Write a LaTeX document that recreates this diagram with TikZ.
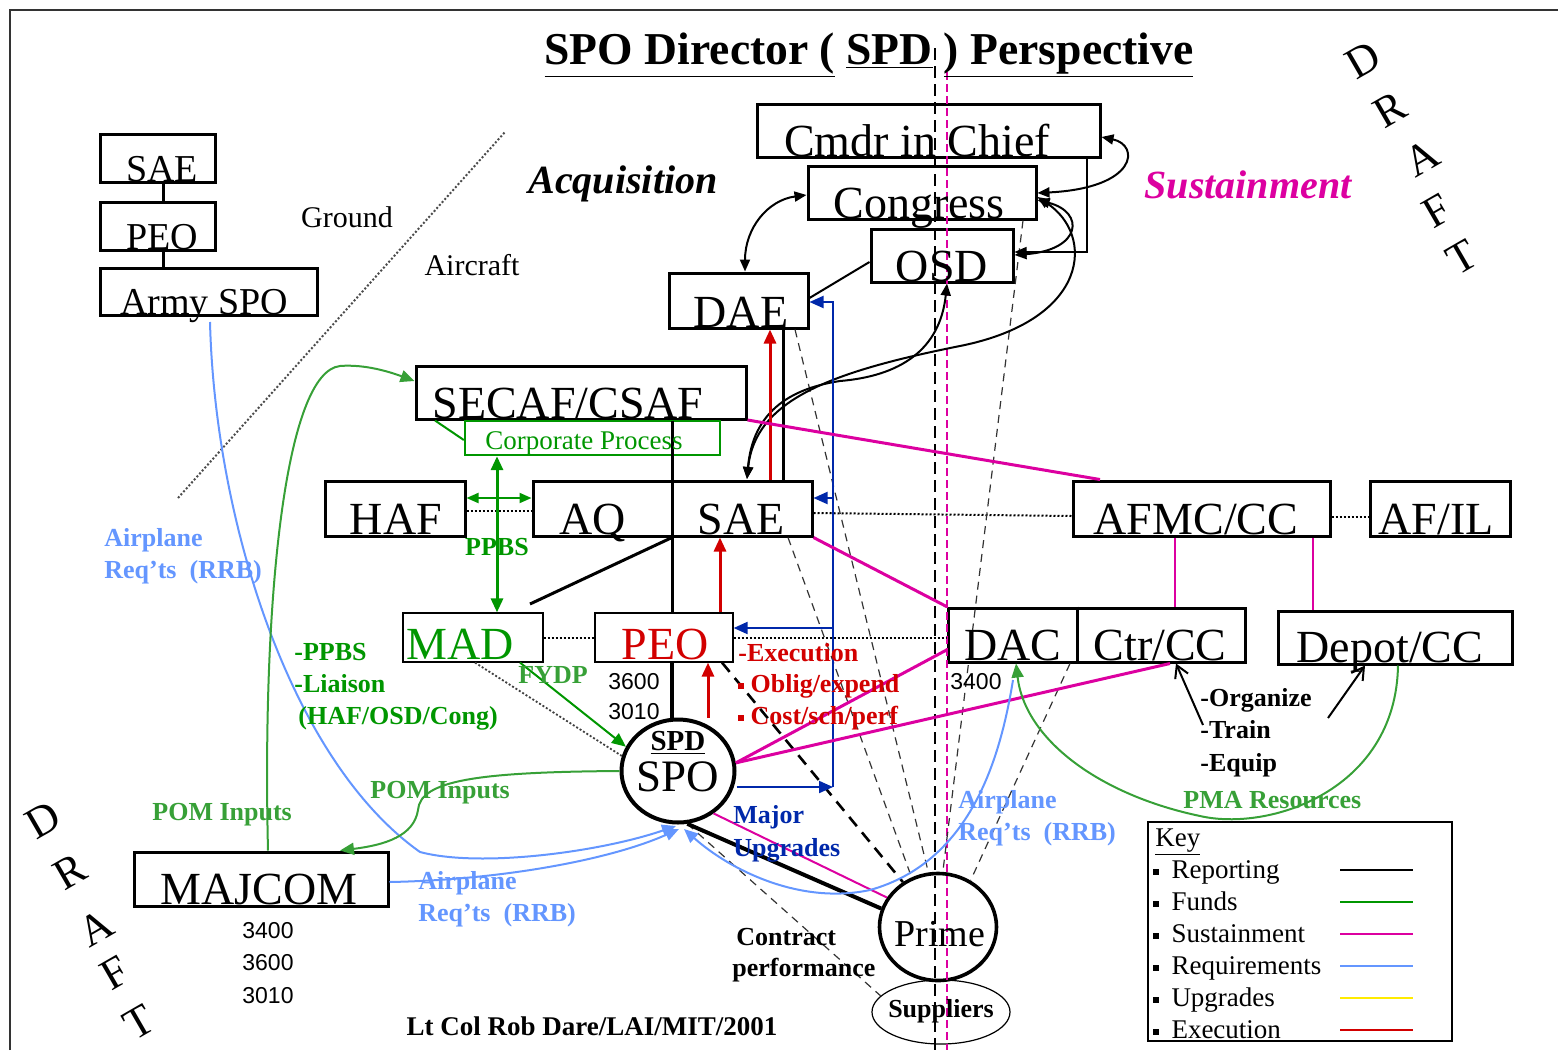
\documentclass[tikz,border=0pt]{standalone}
\usepackage{fontspec}
\setmainfont{Liberation Serif}
\newfontfamily\numfont{Liberation Sans}
\usetikzlibrary{arrows.meta,shapes.geometric,fit}
\definecolor{fgreen}{RGB}{0,150,0}
\definecolor{lgreen}{RGB}{55,160,55}
\definecolor{smag}{RGB}{220,0,160}
\definecolor{lblue}{RGB}{100,150,255}
\definecolor{dblue}{RGB}{0,40,170}
\definecolor{xred}{RGB}{210,0,0}
\definecolor{kyellow}{RGB}{255,235,0}
\newcommand\myfs[1]{\fontsize{#1}{#1}\selectfont}
\newcommand\sqb{\raisebox{0.12em}{\rule{0.22em}{0.22em}}}
\tikzset{
  box/.style={draw, line width=1.5pt, inner sep=0pt},
  thinbox/.style={draw, line width=0.6pt, inner sep=0pt},
  t/.style={anchor=base, inner sep=0pt},
  bt/.style={t, font=\myfs{23pt}},
  rep/.style={line width=1.5pt, black},
  arr/.style={-{Triangle[length=7pt,width=6pt]}},
  darr/.style={{Triangle[length=7pt,width=6pt]}-{Triangle[length=7pt,width=6pt]}},
  sarr/.style={-{Triangle[length=6pt,width=5pt]}},
  sdarr/.style={{Triangle[length=6pt,width=5pt]}-{Triangle[length=6pt,width=5pt]}},
  sust/.style={line width=1.5pt, smag},
  req/.style={line width=1pt, lblue},
  upg/.style={line width=1pt, dblue},
  exe/.style={line width=1.5pt, xred},
  fund/.style={line width=1pt, lgreen},
  dots/.style={line width=1pt, dash pattern=on 1pt off 1pt},
  thindash/.style={line width=0.6pt, black!80, dash pattern=on 4pt off 3pt},
  glbl/.style={t, font=\bfseries\myfs{13pt}, text=lgreen},
  blbl/.style={t, font=\bfseries\myfs{13pt}, text=lblue},
  dlet/.style={font=\myfs{22pt}, rotate=30, inner sep=0pt}
}
\begin{document}
\begin{tikzpicture}[x=0.5pt,y=-0.5pt]
\useasboundingbox (0,0) rectangle (1558,1050);
\draw[line width=0.8pt, black!80] (10,1050) -- (10,10) -- (1558,10);

% ---------- boxes ----------
\node[box, fit={(100,134) (215,182)}] (lsae) {};
\node[box, fit={(100,202) (215,250)}] (lpeo) {};
\node[box, fit={(100,268) (317,315)}] (army) {};
\node[box, fit={(757,104) (1100,157)}] (cic) {};
\node[box, fit={(808,166) (1036,219)}] (cong) {};
\node[box, fit={(871,229) (1013,282)}] (osd) {};
\node[box, fit={(669,273) (808,328)}] (dae) {};
\node[box, fit={(416,366) (746,419)}] (secaf) {};
\node[draw=fgreen, line width=1.2pt, inner sep=0pt, fit={(465,421) (720,455)}] (corp) {};
\node[box, fit={(325,481) (465,536)}] (haf) {};
\node[box, fit={(533,481) (812,536)}] (aqsae) {};
\node[box, fit={(1073,481) (1330,536)}] (afmc) {};
\node[box, fit={(1370,481) (1510,536)}] (afil) {};
\node[thinbox, fit={(403,613) (543,662)}] (mad) {};
\node[thinbox, fit={(595,613) (733,662)}] (peo) {};
\node[box, fit={(948,608) (1245,662)}] (dacctr) {};
\node[box, fit={(1278,611) (1512,664)}] (depot) {};
\node[box, fit={(134,852) (388,906)}] (majcom) {};
\node[draw, line width=0.8pt, inner sep=0pt, fit={(1148,822) (1452,1041)}] (key) {};
\node[draw, ellipse, line width=2pt, minimum width=56.5pt, minimum height=51.5pt, inner sep=0pt] (spo) at (678,771) {};
\node[draw, ellipse, line width=1.8pt, minimum width=58.5pt, minimum height=53.5pt, inner sep=0pt] (prime) at (938,927) {};
\node[draw, ellipse, line width=0.6pt, minimum width=69pt, minimum height=32pt, inner sep=0pt] (supp) at (941,1012) {};

% dividers
\draw[rep] (672,0 |- aqsae.north) -- (672,0 |- aqsae.south);
\draw[rep] (1077,0 |- dacctr.north) -- (1077,0 |- dacctr.south);

% ---------- centre dashed lines ----------
\coordinate (ctop) at (935,48);
\coordinate (cbot) at (935,1050);
\coordinate (mtop) at (947,72);
\coordinate (mbot) at (947,1050);
\draw[line width=1.4pt, dash pattern=on 6pt off 3pt] (ctop) -- (cbot);
\draw[line width=0.7pt, smag, dash pattern=on 4pt off 2pt] (mtop) -- (mbot);

% ---------- ground / aircraft divider ----------
\coordinate (gd1) at (178,498);
\coordinate (gd2) at (505,132);
\draw[line width=1pt, black!70, dash pattern=on 1pt off 1pt] (gd1) -- (gd2);

% ---------- dotted links ----------
\draw[dots] (haf.east |- 0,511) -- (aqsae.west |- 0,511);
\draw[dots] (aqsae.east |- 0,513) -- (afmc.west |- 0,516);
\draw[dots] (afmc.east |- 0,517) -- (afil.west |- 0,517);
\draw[dots] (mad.east |- 0,638) -- (peo.west |- 0,638);
\draw[dots] (peo.east |- 0,638) -- (dacctr.west |- 0,638);

% ---------- contract performance dashed ----------
\draw[thindash] (795,0 |- dae.south) -- (prime.100);
\draw[thindash] (788,0 |- aqsae.south) -- (prime.118);
\draw[thindash] (1023,0 |- cong.south) -- (prime.85);
\draw[thindash] (1070,0 |- dacctr.south) -- (prime.55);
\draw[line width=1.3pt, dash pattern=on 6pt off 4pt] (722,0 |- peo.south) -- (prime.128);
\draw[thindash] (spo.-80) -- (supp.165);
\draw[line width=0.9pt, black!75, dash pattern=on 1pt off 1pt] (475,0 |- mad.south) -- (spo.165);

% ---------- reporting (black) ----------
\draw[rep] (163,0 |- lsae.south) -- (163,0 |- lpeo.north);
\draw[rep] (163,0 |- lpeo.south) -- (163,0 |- army.north);
\draw[line width=1pt] (osd.west |- 0,262) -- (dae.east |- 0,298);
\draw[rep] (783,0 |- dae.south) -- (783,0 |- aqsae.north);
\draw[rep] (672,0 |- secaf.south) -- (672,0 |- peo.north);
\coordinate (madtop) at (530,604);
\draw[rep] (672,0 |- aqsae.south) -- (madtop);
\draw[line width=2pt] (672,0 |- peo.south) -- (spo.north -| 672,0);
\draw[line width=2pt] (spo.-80) -- (prime.162);

% top curves
\draw[line width=1pt, sdarr] (cong.west |- 0,195) .. controls (768,200) and (745,228) .. (745,0 |- dae.north);
\draw[line width=1pt, sdarr] (cic.east |- 0,137) .. controls (1140,145) and (1138,188) .. (cong.east |- 0,193);
\draw[line width=1pt, sdarr] (cong.east |- 0,200) .. controls (1085,212) and (1082,250) .. (osd.east |- 0,255);
\draw[line width=0.7pt, sarr] (1087,0 |- cic.south) -- (1087,252) -- (osd.east |- 0,252);
\coordinate (saetop) at (747,479);
\draw[line width=1pt, sdarr] (cong.east |- 0,197) .. controls (1095,235) and (1090,320) .. (960,346)
   .. controls (830,372) and (755,400) .. (saetop);
\draw[line width=1pt, sdarr] (947,0 |- osd.south) .. controls (940,350) and (900,376) .. (840,381)
   .. controls (780,390) and (752,420) .. (saetop);

% organize / train / equip arrows
\coordinate (ot1) at (1203,725);
\coordinate (ot2) at (1328,718);
\draw[line width=1pt, -{Straight Barb[length=6pt,width=7pt]}] (ot1) -- (1176,0 |- dacctr.south);
\draw[line width=1pt, -{Straight Barb[length=6pt,width=7pt]}] (ot2) -- (1365,0 |- depot.south);

% ---------- execution (red) ----------
\draw[exe, arr] (spo.north -| 708,0) -- (708,0 |- peo.south);
\draw[exe, arr] (720,0 |- peo.north) -- (720,0 |- aqsae.south);
\draw[exe, arr] (770,0 |- aqsae.north) -- (770,0 |- dae.south);

% ---------- upgrades (dark blue) ----------
\coordinate (ub) at (833,787);
\coordinate (ut) at (833,302);
\draw[upg, arr] (spo.east |- ub) -- (ub);
\draw[upg, arr] (ub) -- (ut) -- (dae.east |- ut);
\draw[upg, arr] (833,498) -- (aqsae.east |- 0,498);
\draw[upg, arr] (833,628) -- (peo.east |- 0,628);

% ---------- sustainment (magenta) ----------
\draw[sust] (secaf.east |- 0,420) -- (1100,0 |- afmc.north);
\draw[sust] (aqsae.south east) -- (dacctr.north west);
\draw[sust] (spo.8) -- (dacctr.west |- 0,650);
\draw[sust] (spo.8) -- (1170,0 |- dacctr.south);
\draw[line width=1pt, smag] (spo.-50) -- (prime.150);
\draw[line width=1pt, smag] (1175,0 |- afmc.south) -- (1175,0 |- dacctr.north);
\draw[line width=1pt, smag] (1313,0 |- afmc.south) -- (1313,0 |- depot.north);

% ---------- requirements (light blue) ----------
\coordinate (spob) at (676,826);
\draw[req, arr] (210,322) .. controls (215,520) and (290,760) .. (420,852)
   .. controls (480,868) and (600,852) .. (spob);
\draw[req, arr] (majcom.east |- 0,882) .. controls (500,880) and (610,860) .. (679,829);
\draw[req, arr] (1013,680) .. controls (1000,760) and (970,862) .. (870,890)
   .. controls (800,905) and (730,870) .. (684,829);

% ---------- funds (green) ----------
\draw[fund, arr] (268,0 |- majcom.north) .. controls (262,600) and (285,372) .. (340,366)
   .. controls (365,364) and (390,372) .. (secaf.west |- 0,381);
\draw[line width=1pt, fgreen] (435,0 |- secaf.south) -- (corp.west |- 0,440);
\draw[line width=1.5pt, fgreen, darr] (497,0 |- corp.south) -- (497,0 |- mad.north);
\draw[line width=1pt, fgreen, sdarr] (haf.east |- 0,498) -- (aqsae.west |- 0,498);
\draw[line width=1pt, fgreen, arr] (520,0 |- mad.south) -- (spo.155);
\draw[fund, arr] (spo.180) .. controls (480,772) and (420,780) .. (418,810)
   .. controls (414,836) and (385,845) .. (340,0 |- majcom.north);
\draw[fund, arr] (1398,0 |- depot.south) .. controls (1396,790) and (1270,832) .. (1200,816)
   .. controls (1100,795) and (1025,740) .. (1016,0 |- dacctr.south);

% ---------- box texts ----------
\node[t, font=\myfs{19pt}] (tlsae) at (162,181) {SAE};
\node[t, font=\myfs{19pt}] (tlpeo) at (162,249) {PEO};
\node[t, font=\myfs{19pt}] (tarmy) at (204,314) {Army SPO};
\node[bt] (tcic) at (917,156) {Cmdr in Chief};
\node[bt] (tcong) at (919,218) {Congress};
\node[bt] (tosd) at (942,281) {OSD};
\node[bt] (tdae) at (741,327) {DAE};
\node[bt] (tsecaf) at (568,418) {SECAF/CSAF};
\node[t, font=\myfs{13.5pt}, text=fgreen] (tcorp) at (584,449) {Corporate Process};
\node[bt] (thaf) at (396,534) {HAF};
\node[bt] (taq) at (593,534) {AQ};
\node[bt] (tsae) at (741,534) {SAE};
\node[bt] (tafmc) at (1196,534) {AFMC/CC};
\node[bt] (tafil) at (1436,534) {AF/IL};
\node[bt, text=fgreen] (tmad) at (460,659) {MAD};
\node[bt, text=xred] (tpeo) at (665,659) {PEO};
\node[bt] (tdac) at (1013,660) {DAC};
\node[bt] (tctr) at (1160,660) {Ctr/CC};
\node[bt] (tdepot) at (1390,662) {Depot/CC};
\node[bt] (tmaj) at (259,904) {MAJCOM};
\node[t, font=\bfseries\myfs{14.5pt}] (tspd) at (678,750) {\underline{SPD}};
\node[t, font=\myfs{22.5pt}] (tspo) at (678,791) {SPO};
\node[t, font=\myfs{19pt}] (tprime) at (940,946) {Prime};
\node[t, font=\bfseries\myfs{13pt}] (tsupp) at (941,1017) {Suppliers};

% ---------- titles and labels ----------
\node[t, font=\bfseries\myfs{22.8pt}] (title) at (869,64) {\underline{SPO Director (}\ \underline{SPD}\ \underline{) Perspective}};
\node[t, font=\bfseries\itshape\myfs{20pt}] (tacq) at (623,193) {Acquisition};
\node[t, font=\bfseries\itshape\myfs{20pt}, text=smag] (tsus) at (1248,198) {Sustainment};
\node[t, font=\myfs{15pt}] (tground) at (347,227) {Ground};
\node[t, font=\myfs{15pt}] (taircraft) at (472,275) {Aircraft};

\node[blbl, anchor=base west] (bl1) at (104,546) {Airplane};
\node[blbl, anchor=base west] (bl2) at (104,578) {Req’ts~~(RRB)};
\node[blbl, anchor=base west] (bm1) at (418,889) {Airplane};
\node[blbl, anchor=base west] (bm2) at (418,921) {Req’ts~~(RRB)};
\node[blbl, anchor=base west] (br1) at (958,808) {Airplane};
\node[blbl, anchor=base west] (br2) at (958,840) {Req’ts~~(RRB)};

\node[glbl, text=fgreen] (tppbs) at (497,555) {PPBS};
\node[glbl, text=fgreen, anchor=base west] (g1) at (294,660) {-PPBS};
\node[glbl, text=fgreen, anchor=base west] (g2) at (294,692) {-Liaison};
\node[glbl, text=fgreen, anchor=base west] (g3) at (298,724) {(HAF/OSD/Cong)};
\node[glbl, anchor=base west] (pom1) at (152,820) {POM Inputs};
\node[glbl, anchor=base west] (pom2) at (370,798) {POM Inputs};
\node[glbl, anchor=base west] (fydp) at (518,683) {FYDP};
\node[glbl, anchor=base west] (pma) at (1183,808) {PMA Resources};

\node[t, anchor=base west, font=\bfseries\myfs{13pt}, text=xred] (e1) at (738,661) {-Execution};
\node[t, anchor=base west, font=\bfseries\myfs{13pt}, text=xred] (e2) at (738,692) {\sqb\ Oblig/expend};
\node[t, anchor=base west, font=\bfseries\myfs{13pt}, text=xred] (e3) at (738,724) {\sqb\ Cost/sch/perf};

\node[t, anchor=base west, font=\bfseries\myfs{13pt}, text=dblue] (mu1) at (733,823) {Major};
\node[t, anchor=base west, font=\bfseries\myfs{13pt}, text=dblue] (mu2) at (733,856) {Upgrades};

\node[t, anchor=base west, font=\bfseries\myfs{13pt}] (o1) at (1200,706) {-Organize};
\node[t, anchor=base west, font=\bfseries\myfs{13pt}] (o2) at (1200,738) {-Train};
\node[t, anchor=base west, font=\bfseries\myfs{13pt}] (o3) at (1200,771) {-Equip};

\node[t, anchor=base west, font=\bfseries\myfs{13pt}] (cp1) at (736,945) {Contract};
\node[t, anchor=base west, font=\bfseries\myfs{13pt}] (cp2) at (732,976) {performance};
\node[t, font=\bfseries\myfs{13.5pt}] (auth) at (592,1035) {Lt Col Rob Dare/LAI/MIT/2001};

\node[t, anchor=base west, font=\numfont\myfs{11.5pt}] (n1) at (608,689) {3600};
\node[t, anchor=base west, font=\numfont\myfs{11.5pt}] (n2) at (608,719) {3010};
\node[t, anchor=base west, font=\numfont\myfs{11.5pt}] (n3) at (950,689) {3400};
\node[t, anchor=base west, font=\numfont\myfs{11.5pt}] (n4) at (242,938) {3400};
\node[t, anchor=base west, font=\numfont\myfs{11.5pt}] (n5) at (242,970) {3600};
\node[t, anchor=base west, font=\numfont\myfs{11.5pt}] (n6) at (242,1003) {3010};

% DRAFT marks
\node[dlet] (d1) at (1363,60) {D};
\node[dlet] (d2) at (1390,110) {R};
\node[dlet] (d3) at (1422,158) {A};
\node[dlet] (d4) at (1437,211) {F};
\node[dlet] (d5) at (1462,257) {T};
\node[dlet] (e1d) at (43,820) {D};
\node[dlet] (e2d) at (70,872) {R};
\node[dlet] (e3d) at (96,928) {A};
\node[dlet] (e4d) at (115,973) {F};
\node[dlet] (e5d) at (139,1022) {T};

% ---------- key ----------
\node[t, anchor=base west, font=\myfs{13.5pt}] (kh) at (1155,846) {\underline{Key}};
\foreach \n/\lab/\col [count=\i] in {kr/Reporting/black, kf/Funds/fgreen, ks/Sustainment/smag, kq/Requirements/lblue, ku/Upgrades/kyellow, ke/Execution/xred}{
  \node[t, anchor=base west, font=\myfs{13.5pt}] (\n) at (1153,{846+\i*32}) {\sqb\hspace{0.45em}\lab};
  \coordinate (\n a) at (1340,{838+\i*32});
  \coordinate (\n b) at (1413,{838+\i*32});
  \draw[line width=0.8pt, \col] (\n a) -- (\n b);
}
\end{tikzpicture}
\end{document}
